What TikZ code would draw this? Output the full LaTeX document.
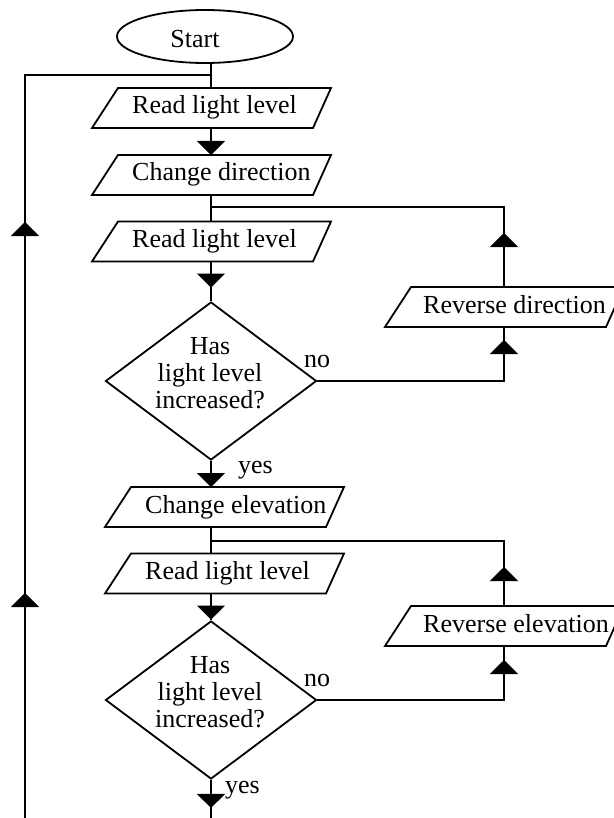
\documentclass[tikz,border=0pt]{standalone}
\usepackage{fontspec}
\setmainfont{Liberation Serif}
\usetikzlibrary{shapes.geometric,arrows.meta,decorations.markings}
\newcommand\drawpgram[1]{\draw[ln] ([xshift=17pt]#1.north west) -- ([xshift=10pt]#1.north east) -- ([xshift=-8pt]#1.south east) -- ([xshift=-9pt]#1.south west) -- cycle;}
\begin{document}
\begin{tikzpicture}[x=1pt,y=-1pt,
  >={Triangle[width=28pt,length=14pt]},
  ln/.style={line width=1.8pt, line join=miter},
  midarr/.style={postaction={decorate,decoration={markings,mark=at position #1 with {\arrow{>}}}}},
  pbox/.style={rectangle, minimum width=220pt, minimum height=40pt, inner sep=0pt, outer sep=0pt},
  dia/.style={diamond, draw, ln, minimum width=211pt, minimum height=158pt, inner sep=0pt},
  txt/.style={font=\fontsize{26}{27}\selectfont, inner sep=0pt}]
\useasboundingbox (0,0) rectangle (613,818);
% start
\node[draw, ln, ellipse, minimum width=176pt, minimum height=53pt, inner sep=0pt] (start) at (205,36.5) {};
\node[txt] (st) at (195,39.5) {Start};
% boxes
\node[pbox] (b1) at (211,108) {};
\node[pbox] (b2) at (211,175) {};
\node[pbox] (b3) at (211,241.5) {};
\node[pbox] (b4) at (224,507) {};
\node[pbox] (b5) at (224,573.5) {};
\node[pbox] (r1) at (504,307) {};
\node[pbox] (r2) at (504,626) {};
\drawpgram{b1}\drawpgram{b2}\drawpgram{b3}\drawpgram{b4}\drawpgram{b5}\drawpgram{r1}\drawpgram{r2}
\node[txt, anchor=base west] (t1) at ([xshift=-79pt,yshift=-6pt]b1.center) {Read light level};
\node[txt, anchor=base west] (t2) at ([xshift=-79pt,yshift=-6pt]b2.center) {Change direction};
\node[txt, anchor=base west] (t3) at ([xshift=-79pt,yshift=-6pt]b3.center) {Read light level};
\node[txt, anchor=base west] (t4) at ([xshift=-79pt,yshift=-6pt]b4.center) {Change elevation};
\node[txt, anchor=base west] (t5) at ([xshift=-79pt,yshift=-6pt]b5.center) {Read light level};
\node[txt, anchor=base west] (t6) at ([xshift=-81pt,yshift=-6pt]r1.center) {Reverse direction};
\node[txt, anchor=base west] (t7) at ([xshift=-81pt,yshift=-6pt]r2.center) {Reverse elevation};
% decisions
\node[dia] (d1) at (211,381) {};
\node[dia] (d2) at (211,700) {};
\node[txt, align=center] (q1) at (210,373) {Has\\light level\\increased?};
\node[txt, align=center] (q2) at (210,692) {Has\\light level\\increased?};
\node[txt, anchor=base west] (no1) at (304,367) {no};
\node[txt, anchor=base west] (no2) at (304,686) {no};
\node[txt, anchor=base west] (yes1) at (238,473) {yes};
\node[txt, anchor=base west] (yes2) at (225,793) {yes};
% junctions
\coordinate (j0) at (211,75);
\coordinate (j1) at (211,207);
\coordinate (j2) at (211,541);
\coordinate (lb) at (25,818);
\coordinate (eb) at (211,818);
% connectors
\draw[ln] (start.south -| b1.north) -- (b1.north);
\draw[ln,->] (b1.south) -- (b2.north);
\draw[ln] (b2.south) -- (b3.north);
\draw[ln, midarr=26pt] (b3.south) -- (d1.north);
\draw[ln,->] (d1.south) -- (d1.south |- b4.north);
\draw[ln] (b4.south -| d1.south) -- (b5.north -| d1.south);
\draw[ln, midarr=26pt] (b5.south -| d1.south) -- (d2.north);
\draw[ln, midarr=28pt] (d2.south) -- (eb);
\draw[ln, midarr=225pt, midarr=596pt] (lb) -- (lb |- j0) -- (j0);
\draw[ln, midarr=-13pt] (d1.east) -- (d1.east -| r1.south) -- (r1.south);
\draw[ln, midarr=54pt] (r1.north) -- (r1.north |- j1) -- (j1);
\draw[ln, midarr=-14pt] (d2.east) -- (d2.east -| r2.south) -- (r2.south);
\draw[ln, midarr=39pt] (r2.north) -- (r2.north |- j2) -- (j2);
\end{tikzpicture}
\end{document}
